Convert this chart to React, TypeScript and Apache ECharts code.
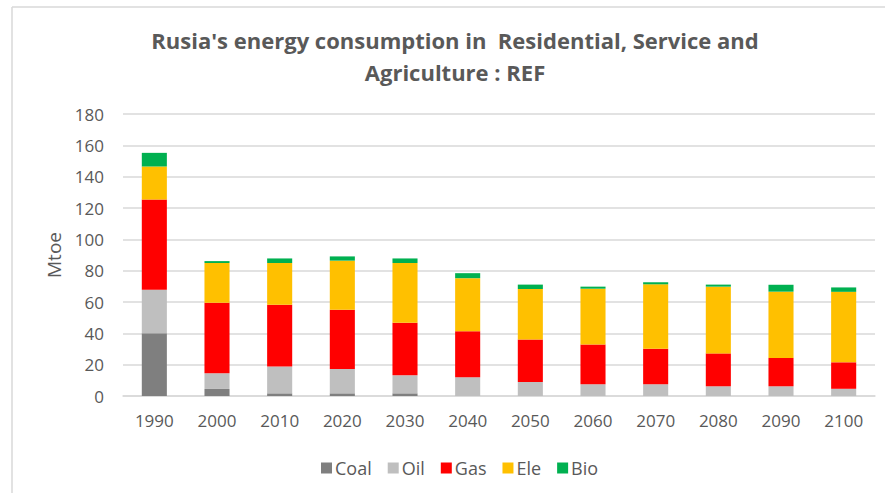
import React, { useEffect, useRef } from "react";
import * as echarts from "echarts";

const categories = ["1990", "2000", "2010", "2020", "2030", "2040", "2050", "2060", "2070", "2080", "2090", "2100"];
const coal = [40, 4.5, 1.7, 1.7, 1.7, 0, 0, 0, 0, 0, 0, 0];
const oil = [27.8, 10, 17.1, 15.6, 11.5, 12, 9, 7.5, 7.5, 6.2, 6.2, 4.6];
const gas = [57.6, 45, 39.4, 37.7, 33.5, 29.3, 27, 25.3, 22.7, 21, 18.1, 16.9];
const ele = [21.1, 25.4, 26.7, 31.4, 38.2, 33.9, 32.3, 35.7, 41.1, 42.6, 42.3, 45];
const bio = [8.7, 1.2, 2.9, 2.7, 2.9, 3.2, 2.8, 1.3, 1.3, 1.3, 4.4, 2.8];
const seriesNames = ["Coal", "Oil", "Gas", "Ele", "Bio"];
const seriesColors = ["#7f7f7f", "#bfbfbf", "#ff0000", "#ffc000", "#00b050"];
const yTicks = { min: 0, max: 180, interval: 20 };
const titleText = "Rusia's energy consumption in  Residential, Service and\nAgriculture : REF";
const yName = "Mtoe";

const FONT = "'Open Sans', 'Noto Sans', sans-serif";
const TXT = "#595959";

export default function App() {
  const ref = useRef<HTMLDivElement>(null);
  useEffect(() => {
    if (!ref.current) return;
    const chart = echarts.init(ref.current, undefined, { renderer: "svg" });
    const values = [coal, oil, gas, ele, bio];
    chart.setOption({
      animation: false,
      backgroundColor: "#ffffff",
      textStyle: { fontFamily: FONT },
      graphic: [
        {
          type: "line",
          shape: { x1: 12, y1: 7, x2: 885, y2: 7 },
          style: { stroke: "#d9d9d9", lineWidth: 1.5 },
        },
        {
          type: "line",
          shape: { x1: 12, y1: 7, x2: 12, y2: 493 },
          style: { stroke: "#d9d9d9", lineWidth: 1.5 },
        },
        {
          type: "text",
          x: 455,
          y: 24,
          style: {
            text: titleText,
            textAlign: "center",
            textVerticalAlign: "top",
            fill: TXT,
            font: `bold 22px ${FONT}`,
            lineHeight: 32,
          },
        },
      ],
      legend: {
        data: seriesNames,
        left: 316,
        top: 454,
        itemWidth: 11,
        itemHeight: 11,
        itemGap: 16,
        icon: "rect",
        textStyle: { color: TXT, fontSize: 18, fontFamily: FONT, padding: [0, 0, 0, -2] },
      },
      grid: { left: 123, right: 10, top: 114, bottom: 97, containLabel: false },
      xAxis: {
        type: "category",
        data: categories,
        axisTick: { show: false },
        axisLine: { lineStyle: { color: "#d9d9d9", width: 1.5 } },
        axisLabel: { color: TXT, fontSize: 17, margin: 16, fontFamily: FONT },
      },
      yAxis: {
        type: "value",
        min: yTicks.min,
        max: yTicks.max,
        interval: yTicks.interval,
        name: yName,
        nameLocation: "middle",
        nameRotate: 90,
        nameGap: 60,
        nameTextStyle: { color: TXT, fontSize: 19, fontFamily: FONT },
        axisLine: { show: false },
        axisTick: { show: false },
        axisLabel: { color: TXT, fontSize: 17, margin: 19, fontFamily: FONT },
        splitLine: { lineStyle: { color: "#d9d9d9", width: 1.5 } },
      },
      series: seriesNames.map((name, i) => ({
        name,
        type: "bar",
        stack: "total",
        barWidth: "40%",
        data: values[i],
        itemStyle: { color: seriesColors[i] },
      })),
    });
    return () => chart.dispose();
  }, []);
  return (
    <div
      ref={ref}
      style={{ position: "fixed", left: 0, top: 0, width: 885, height: 493 }}
    />
  );
}
